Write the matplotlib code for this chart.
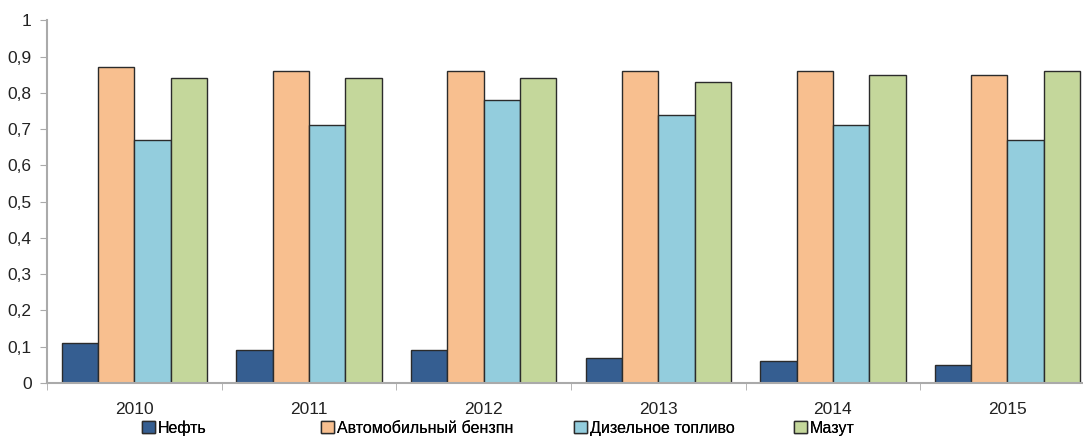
import numpy as np
import matplotlib.pyplot as plt
from matplotlib.ticker import FuncFormatter, FixedLocator

years = ['2010', '2011', '2012', '2013', '2014', '2015']
series = ['Нефть', 'Автомобильный бензпн', 'Дизельное топливо', 'Мазут']
neft = [0.11, 0.09, 0.09, 0.07, 0.06, 0.05]
benzin = [0.87, 0.86, 0.86, 0.86, 0.86, 0.85]
dizel = [0.67, 0.71, 0.78, 0.74, 0.71, 0.67]
mazut = [0.84, 0.84, 0.84, 0.83, 0.85, 0.86]
colors = ['#355e91', '#f8bf8f', '#93cddd', '#c4d79b']

plt.rcParams['font.family'] = ['Liberation Sans', 'DejaVu Sans']

fig = plt.figure(figsize=(10.83, 4.36), dpi=100)
# the plot area runs a little past the right edge of the picture
ax = fig.add_axes([0.0434, 0.1216, 0.9675, 0.832])

x = np.arange(len(years))
w = 0.208
bars = []
for i, vals in enumerate([neft, benzin, dizel, mazut]):
    b = ax.bar(x + (i - 1.5) * w, vals, w, color=colors[i], edgecolor='#2b2b2b',
               linewidth=1.0, label=series[i])
    bars.append(b)

ax.set_xlim(-0.5, len(years) - 0.5)
ax.set_ylim(0, 1)
ax.set_yticks(np.arange(0, 1.01, 0.1))
ax.yaxis.set_major_formatter(FuncFormatter(
    lambda v, p: '0' if v == 0 else ('1' if v >= 0.999 else f'{v:.1f}'.replace('.', ','))))
ax.set_xticks(x)
ax.set_xticklabels(years)
ax.xaxis.set_minor_locator(FixedLocator(np.arange(-0.5, len(years), 1.0)))
ax.tick_params(axis='x', which='major', length=0, pad=14, labelsize=12.5, colors='#222222')
ax.tick_params(axis='x', which='minor', length=5, color='#aaaaaa', direction='out')
ax.tick_params(axis='y', length=5, color='#aaaaaa', labelsize=12.5, labelcolor='#222222', pad=6)
for s in ['top', 'right']:
    ax.spines[s].set_visible(False)
for s in ['left', 'bottom']:
    ax.spines[s].set_color('#aaaaaa')
    ax.spines[s].set_linewidth(1.5)

# legend entries sit at uneven spacing, one small legend per series
leg_x = [142, 321, 574, 794]
for i in range(4):
    lg = fig.legend([bars[i]], [series[i]], loc='center left',
                    bbox_to_anchor=(leg_x[i] / 1083, 1 - 428 / 436), frameon=False,
                    fontsize=11.5, handlelength=0.8, handleheight=0.8, handletextpad=0.2,
                    borderaxespad=0, borderpad=0)
    fig.add_artist(lg)

fig.savefig('out.png', dpi=100)
